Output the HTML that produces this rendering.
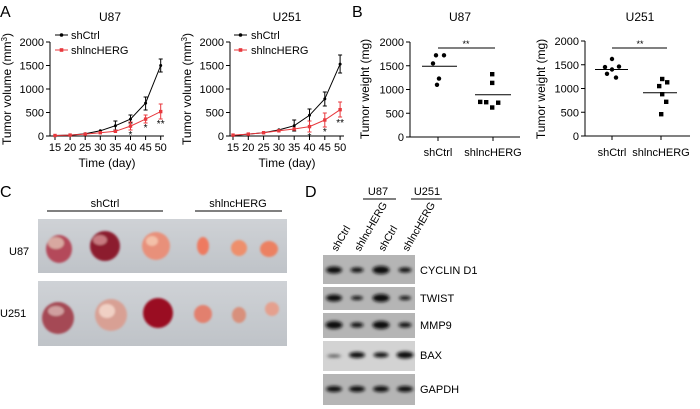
<!DOCTYPE html>
<html><head><meta charset="utf-8"><style>
html,body{margin:0;padding:0;background:#fff}
svg{display:block;font-family:"Liberation Sans",Arial,sans-serif}
</style></head><body>
<svg width="700" height="409" viewBox="0 0 700 409" xmlns="http://www.w3.org/2000/svg">
<defs>
<linearGradient id="bg1" x1="0" y1="0" x2="0" y2="1"><stop offset="0" stop-color="#cfd2d6"/><stop offset="1" stop-color="#bfc3c8"/></linearGradient>
<filter id="bl" x="-50%" y="-50%" width="200%" height="200%"><feGaussianBlur stdDeviation="1.6"/></filter>
<filter id="bl2" x="-50%" y="-50%" width="200%" height="200%"><feGaussianBlur stdDeviation="1"/></filter>
</defs>
<g font-size="16" fill="#000"><text x="0" y="17">A</text><text x="352" y="17">B</text><text x="0" y="197">C</text><text x="305" y="197">D</text></g>

<!-- A left -->
<g font-size="11" fill="#000">
<text x="110" y="21" text-anchor="middle" font-size="12">U87</text>
<g stroke="#000" stroke-width="1" fill="none">
<path d="M50,42V136H164"/>
<path d="M46,42H50M46,65.5H50M46,89H50M46,112.5H50M46,136H50"/>
<path d="M55,136v4M70.1,136v4M85.2,136v4M100.3,136v4M115.4,136v4M130.5,136v4M145.6,136v4M160.7,136v4"/>
</g>
<g text-anchor="end"><text x="44" y="46">2000</text><text x="44" y="69.5">1500</text><text x="44" y="93">1000</text><text x="44" y="116.5">500</text><text x="44" y="140">0</text></g>
<g text-anchor="middle"><text x="55" y="151">15</text><text x="70.1" y="151">20</text><text x="85.2" y="151">25</text><text x="100.3" y="151">30</text><text x="115.4" y="151">35</text><text x="130.5" y="151">40</text><text x="145.6" y="151">45</text><text x="160.7" y="151">50</text></g>
<text x="107" y="167" text-anchor="middle" font-size="12">Time (day)</text>
<text transform="translate(11,89) rotate(-90)" text-anchor="middle" font-size="12">Tumor volume (mm<tspan font-size="8" dy="-4">3</tspan><tspan dy="4">)</tspan></text>
<path d="M55,35H68" stroke="#000"/><circle cx="61.5" cy="35" r="1.8"/><text x="71" y="39">shCtrl</text>
<path d="M55,50H68" stroke="#e8383d"/><rect x="59.7" y="48.2" width="3.6" height="3.6" fill="#e8383d"/><text x="71" y="54" fill="#000">shlncHERG</text>
<g stroke="#000" fill="none"><polyline points="55,135.5 70.1,135.1 85.2,133.7 100.3,130.8 115.4,125.7 130.5,119.1 145.6,103.1 160.7,65.5"/>
<path d="M115.4,121v9M113.4,121h4M113.4,130h4M130.5,115v8M128.5,115h4M128.5,123h4M145.6,97v13M143.6,97h4M143.6,110h4M160.7,59v13M158.7,59h4M158.7,72h4"/></g>
<g><circle cx="55" cy="135.5" r="1.5"/><circle cx="70.1" cy="135.1" r="1.5"/><circle cx="85.2" cy="133.7" r="1.5"/><circle cx="100.3" cy="130.8" r="1.5"/><circle cx="115.4" cy="125.7" r="1.5"/><circle cx="130.5" cy="119.1" r="1.5"/><circle cx="145.6" cy="103.1" r="1.5"/><circle cx="160.7" cy="65.5" r="1.5"/></g>
<g stroke="#e8383d" fill="none"><polyline points="55,135.5 70.1,135.1 85.2,134.1 100.3,132.7 115.4,131.3 130.5,126.1 145.6,119.1 160.7,111.6"/>
<path d="M130.5,122v8M128.5,122h4M128.5,130h4M145.6,115v8M143.6,115h4M143.6,123h4M160.7,104v15M158.7,104h4M158.7,119h4"/></g>
<g fill="#e8383d"><rect x="53.3" y="133.8" width="3.4" height="3.4"/><rect x="68.4" y="133.4" width="3.4" height="3.4"/><rect x="83.5" y="132.4" width="3.4" height="3.4"/><rect x="98.6" y="131" width="3.4" height="3.4"/><rect x="113.7" y="129.6" width="3.4" height="3.4"/><rect x="128.8" y="124.4" width="3.4" height="3.4"/><rect x="143.9" y="117.4" width="3.4" height="3.4"/><rect x="159" y="109.9" width="3.4" height="3.4"/></g>
<g font-size="10" text-anchor="middle"><text x="130.5" y="138">*</text><text x="145.6" y="131">*</text><text x="160.7" y="127">**</text></g>
</g>

<!-- A right -->
<g font-size="11" fill="#000">
<text x="287" y="21" text-anchor="middle" font-size="12">U251</text>
<g stroke="#000" fill="none">
<path d="M230,42V136H344"/>
<path d="M226,42H230M226,65.5H230M226,89H230M226,112.5H230M226,136H230"/>
<path d="M233,136v4M248.3,136v4M263.6,136v4M278.9,136v4M294.2,136v4M309.5,136v4M324.8,136v4M340.1,136v4"/>
</g>
<g text-anchor="end"><text x="224" y="46">2000</text><text x="224" y="69.5">1500</text><text x="224" y="93">1000</text><text x="224" y="116.5">500</text><text x="224" y="140">0</text></g>
<g text-anchor="middle"><text x="233" y="151">15</text><text x="248.3" y="151">20</text><text x="263.6" y="151">25</text><text x="278.9" y="151">30</text><text x="294.2" y="151">35</text><text x="309.5" y="151">40</text><text x="324.8" y="151">45</text><text x="340.1" y="151">50</text></g>
<text x="287" y="167" text-anchor="middle" font-size="12">Time (day)</text>
<text transform="translate(191,89) rotate(-90)" text-anchor="middle" font-size="12">Tumor volume (mm<tspan font-size="8" dy="-4">3</tspan><tspan dy="4">)</tspan></text>
<path d="M234,35H247" stroke="#000"/><circle cx="240.5" cy="35" r="1.8"/><text x="251" y="39">shCtrl</text>
<path d="M234,50H247" stroke="#e8383d"/><rect x="238.7" y="48.2" width="3.6" height="3.6" fill="#e8383d"/><text x="251" y="54">shlncHERG</text>
<g stroke="#000" fill="none"><polyline points="233,135.5 248.3,134.1 263.6,132.7 278.9,129.9 294.2,125.7 309.5,115.3 324.8,98.9 340.1,64.1"/>
<path d="M294.2,120v11M292.2,120h4M292.2,131h4M309.5,109v12M307.5,109h4M307.5,121h4M324.8,92v14M322.8,92h4M322.8,106h4M340.1,55v18M338.1,55h4M338.1,73h4"/></g>
<g><circle cx="233" cy="135.5" r="1.5"/><circle cx="248.3" cy="134.1" r="1.5"/><circle cx="263.6" cy="132.7" r="1.5"/><circle cx="278.9" cy="129.9" r="1.5"/><circle cx="294.2" cy="125.7" r="1.5"/><circle cx="309.5" cy="115.3" r="1.5"/><circle cx="324.8" cy="98.9" r="1.5"/><circle cx="340.1" cy="64.1" r="1.5"/></g>
<g stroke="#e8383d" fill="none"><polyline points="233,135.1 248.3,134.1 263.6,132.7 278.9,130.8 294.2,129 309.5,126.6 324.8,120 340.1,109.7"/>
<path d="M309.5,121v11M307.5,121h4M307.5,132h4M324.8,113v14M322.8,113h4M322.8,127h4M340.1,102v15M338.1,102h4M338.1,117h4"/></g>
<g fill="#e8383d"><rect x="231.3" y="133.4" width="3.4" height="3.4"/><rect x="246.6" y="132.4" width="3.4" height="3.4"/><rect x="261.9" y="131" width="3.4" height="3.4"/><rect x="277.2" y="129.1" width="3.4" height="3.4"/><rect x="292.5" y="127.3" width="3.4" height="3.4"/><rect x="307.8" y="124.9" width="3.4" height="3.4"/><rect x="323.1" y="118.3" width="3.4" height="3.4"/><rect x="338.4" y="108" width="3.4" height="3.4"/></g>
<g font-size="10" text-anchor="middle"><text x="309.5" y="140">*</text><text x="324.8" y="135">*</text><text x="340.1" y="126">**</text></g>
</g>

<!-- B left -->
<g font-size="11" fill="#000">
<text x="460" y="21" text-anchor="middle" font-size="12">U87</text>
<g stroke="#000" fill="none"><path d="M410,42V137H520"/><path d="M406,42H410M406,65.75H410M406,89.5H410M406,113.25H410M406,137H410"/><path d="M438,137v4M493,137v4"/>
<path d="M422,66.2H457M475,94.7H511M438,48H495"/></g>
<g text-anchor="end"><text x="404" y="46">2000</text><text x="404" y="69.75">1500</text><text x="404" y="93.5">1000</text><text x="404" y="117.25">500</text><text x="404" y="141">0</text></g>
<text x="466" y="47" text-anchor="middle" font-size="9">**</text>
<text x="438" y="156" text-anchor="middle">shCtrl</text><text x="493" y="156" text-anchor="middle">shlncHERG</text>
<text transform="translate(369,89) rotate(-90)" text-anchor="middle" font-size="12">Tumor weight (mg)</text>
<circle cx="436" cy="55.3" r="2.2"/><circle cx="444" cy="55.3" r="2.2"/><circle cx="433" cy="63.4" r="2.2"/><circle cx="439" cy="78.6" r="2.2"/><circle cx="437" cy="84.8" r="2.2"/>
<rect x="490" y="72" width="4.4" height="4.4"/><rect x="490" y="80.7" width="4.4" height="4.4"/><rect x="484" y="100" width="4.4" height="4.4"/><rect x="496" y="100.5" width="4.4" height="4.4"/><rect x="490" y="105.3" width="4.4" height="4.4"/><rect x="478" y="99.7" width="4.4" height="4.4"/>
</g>

<!-- B right -->
<g font-size="11" fill="#000">
<text x="640" y="21" text-anchor="middle" font-size="12">U251</text>
<g stroke="#000" fill="none"><path d="M585,41V136H690"/><path d="M581,41H585M581,64.75H585M581,88.5H585M581,112.25H585M581,136H585"/><path d="M612,136v4M661,136v4"/>
<path d="M595,69.5H628M643,92.8H677M612,48H667"/></g>
<g text-anchor="end"><text x="579" y="45">2000</text><text x="579" y="68.75">1500</text><text x="579" y="92.5">1000</text><text x="579" y="116.25">500</text><text x="579" y="140">0</text></g>
<text x="640" y="47" text-anchor="middle" font-size="9">**</text>
<text x="612" y="156" text-anchor="middle">shCtrl</text><text x="661" y="156" text-anchor="middle">shlncHERG</text>
<text transform="translate(545,89) rotate(-90)" text-anchor="middle" font-size="12">Tumor weight (mg)</text>
<circle cx="612" cy="59" r="2.2"/><circle cx="605" cy="67.1" r="2.2"/><circle cx="619" cy="66.6" r="2.2"/><circle cx="612" cy="69.5" r="2.2"/><circle cx="607" cy="73.8" r="2.2"/><circle cx="616" cy="77.6" r="2.2"/>
<rect x="660" y="76.8" width="4.4" height="4.4"/><rect x="665" y="80.1" width="4.4" height="4.4"/><rect x="657" y="83.9" width="4.4" height="4.4"/><rect x="660" y="92" width="4.4" height="4.4"/><rect x="664" y="99.6" width="4.4" height="4.4"/><rect x="659" y="112" width="4.4" height="4.4"/>
</g>

<!-- C -->
<g font-size="11" fill="#000">
<text x="105" y="207" text-anchor="middle">shCtrl</text><text x="238" y="207" text-anchor="middle">shlncHERG</text>
<path d="M47,211H163M195,211H282" stroke="#000"/>
<text x="9" y="255">U87</text><text x="0" y="317">U251</text>
</g>
<rect x="38" y="219" width="249" height="54" fill="url(#bg1)"/>
<rect x="38" y="281" width="249" height="65" fill="url(#bg1)"/>
<g filter="url(#bl2)">
<ellipse cx="59" cy="249" rx="13" ry="14" fill="#b4485a"/><ellipse cx="56" cy="243" rx="8" ry="6" fill="#d8a8a0"/>
<ellipse cx="105" cy="246" rx="15" ry="15" fill="#8c1a2e"/><ellipse cx="100" cy="240" rx="7" ry="5" fill="#c87a80"/>
<ellipse cx="156" cy="246" rx="14" ry="14" fill="#e8907a"/><ellipse cx="152" cy="241" rx="6" ry="5" fill="#f3c0a8"/>
<ellipse cx="203" cy="246" rx="6" ry="9" fill="#ee7a60"/>
<ellipse cx="239" cy="248" rx="8" ry="8" fill="#ee8f6c"/>
<ellipse cx="269" cy="249" rx="9" ry="8" fill="#ec8162"/>
<ellipse cx="58" cy="318" rx="16" ry="16" fill="#a54a55"/><ellipse cx="56" cy="311" rx="8" ry="5" fill="#d0a0a0"/>
<ellipse cx="111" cy="315" rx="16" ry="16" fill="#d8a094"/><ellipse cx="107" cy="311" rx="8" ry="7" fill="#f0d0c4"/>
<ellipse cx="158" cy="313" rx="15" ry="15" fill="#9a1024"/>
<ellipse cx="203" cy="314" rx="9" ry="9" fill="#e2806e"/>
<ellipse cx="239" cy="315" rx="7" ry="8" fill="#d8907c"/>
<ellipse cx="272" cy="309" rx="7" ry="7" fill="#e5a08e"/>
</g>

<!-- D -->
<g font-size="11" fill="#000">
<text x="378" y="195" text-anchor="middle">U87</text><text x="427" y="195" text-anchor="middle">U251</text>
<path d="M363,199H396M411,199H442" stroke="#000"/>
<text transform="translate(337,252) rotate(-60)" font-size="10.5">shCtrl</text>
<text transform="translate(360,252) rotate(-60)" font-size="10.5">shlncHERG</text>
<text transform="translate(384,252) rotate(-60)" font-size="10.5">shCtrl</text>
<text transform="translate(408,252) rotate(-60)" font-size="10.5">shlncHERG</text>
<text x="420" y="274">CYCLIN D1</text><text x="420" y="302">TWIST</text><text x="420" y="329">MMP9</text><text x="420" y="359">BAX</text><text x="420" y="393">GAPDH</text>
</g>
<rect x="323" y="255" width="92" height="29" fill="#b5b5b5"/>
<rect x="323" y="287" width="92" height="23" fill="#b5b5b5"/>
<rect x="323" y="313" width="92" height="25" fill="#b5b5b5"/>
<rect x="323" y="341" width="92" height="30" fill="#d3d3d3"/>
<rect x="323" y="374" width="92" height="31" fill="#b5b5b5"/>
<g fill="#111" filter="url(#bl)">
<ellipse cx="334" cy="270" rx="8" ry="3.5"/><ellipse cx="357" cy="270" rx="6.5" ry="2.5"/><ellipse cx="381" cy="270" rx="8.5" ry="4"/><ellipse cx="405" cy="270" rx="6.5" ry="2.5"/>
<ellipse cx="334" cy="298" rx="8" ry="3.5"/><ellipse cx="357" cy="298" rx="6" ry="2"/><ellipse cx="381" cy="298" rx="8.5" ry="4"/><ellipse cx="405" cy="298" rx="6" ry="2"/>
<ellipse cx="334" cy="325" rx="8.5" ry="4"/><ellipse cx="357" cy="325" rx="6.5" ry="2.5"/><ellipse cx="381" cy="325" rx="8.5" ry="4"/><ellipse cx="405" cy="325" rx="6.5" ry="2.5"/>
<ellipse cx="334" cy="356" rx="7" ry="1.5" fill="#555"/><ellipse cx="357" cy="355" rx="8" ry="3"/><ellipse cx="381" cy="355" rx="7.5" ry="2.5"/><ellipse cx="405" cy="355" rx="8.5" ry="3.5"/>
<ellipse cx="334" cy="389" rx="8" ry="3"/><ellipse cx="357" cy="389" rx="8" ry="3"/><ellipse cx="381" cy="389" rx="8" ry="3"/><ellipse cx="405" cy="389" rx="8" ry="3"/>
</g>
</svg>
</body></html>
